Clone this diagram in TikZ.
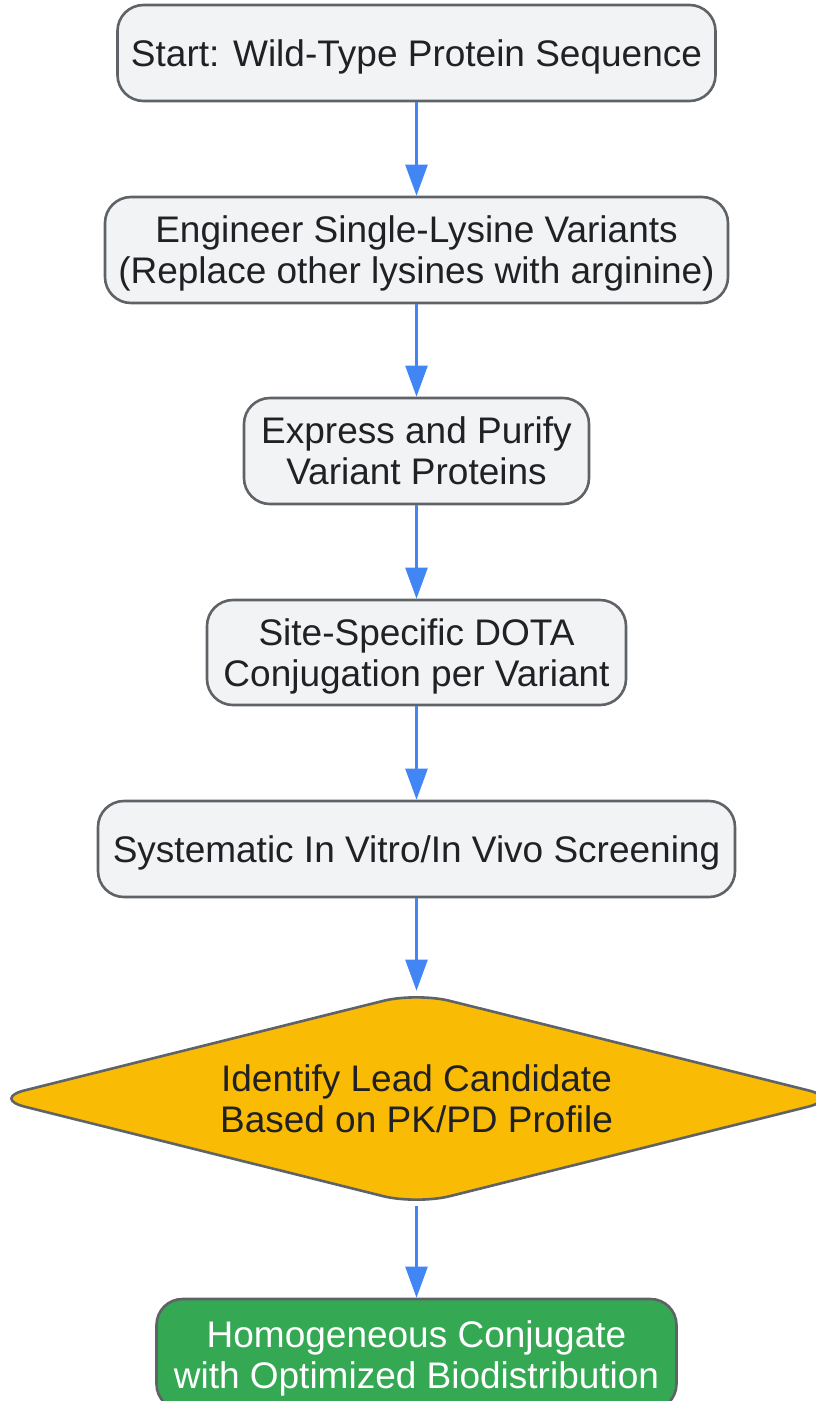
\documentclass[tikz,border=0pt]{standalone}
\usepackage{fontspec}
\setmainfont{Liberation Sans}
\usepackage{tikz}
\usetikzlibrary{
	arrows.meta,
	shapes.geometric
}
\definecolor{boxgray}{RGB}{241,243,244}
\definecolor{edgegray}{RGB}{95,99,104}
\definecolor{flowblue}{RGB}{66,133,244}
\definecolor{leadyellow}{RGB}{250,187,5}
\definecolor{resultgreen}{RGB}{52,168,83}
\definecolor{textdark}{RGB}{32,33,36}

\begin{document}
\begin{tikzpicture}[x=1pt, y=-1pt,
	every node/.style={font=\fontsize{37pt}{41pt}\selectfont, align=center, inner sep=0pt},
	stepbox/.style={draw=edgegray, line width=2.6pt, fill=boxgray, text=textdark, rounded corners=26pt, text depth=0pt},
	decision/.style={diamond, aspect=4, draw=edgegray, line width=2.6pt, fill=leadyellow, text=textdark, rounded corners=34pt},
	resultbox/.style={stepbox, fill=resultgreen, text=white},
	flow/.style={draw=flowblue, line width=2.4pt, -{Triangle[length=31pt, width=22pt]}}]
	\useasboundingbox (0,0) rectangle (815,1401);

	\node[stepbox, minimum width=598pt, minimum height=96pt] (start) at (416.5, 53) {Start: Wild-Type Protein Sequence};
	\node[stepbox, minimum width=623pt, minimum height=106pt] (engineer) at (416.5, 250) {Engineer Single-Lysine Variants\\(Replace other lysines with arginine)};
	\node[stepbox, minimum width=345pt, minimum height=106pt] (express) at (416.5, 451) {Express and Purify\\Variant Proteins};
	\node[stepbox, minimum width=419pt, minimum height=105pt] (dota) at (416.5, 652.5) {Site-Specific DOTA\\Conjugation per Variant};
	\node[stepbox, minimum width=637pt, minimum height=96pt] (screen) at (416.5, 849) {Systematic In Vitro/In Vivo Screening};
	\node[decision, minimum width=850pt, minimum height=213pt] (lead) at (416.5, 1098.5) {Identify Lead Candidate\\Based on PK/PD Profile};
	\node[resultbox, minimum width=520pt, minimum height=111pt] (result) at (416.5, 1354.5) {Homogeneous Conjugate\\with Optimized Biodistribution};

	\foreach \a/\b in {start/engineer, engineer/express, express/dota, dota/screen, screen/lead, lead/result} {
		\draw[flow] (\a) -- (\b);
	}

\end{tikzpicture}
\end{document}
